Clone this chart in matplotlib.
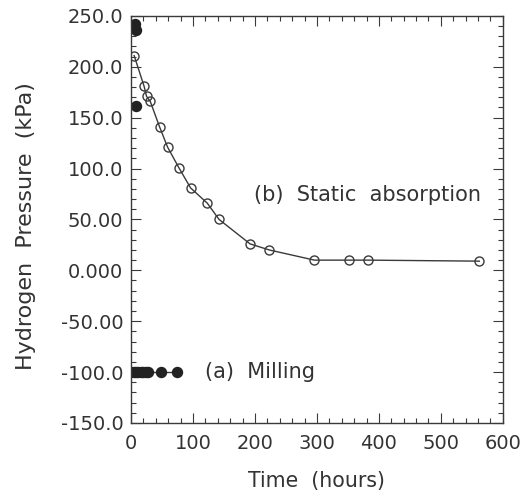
import numpy as np
import matplotlib.pyplot as plt
from matplotlib.ticker import MultipleLocator

plt.rcParams['font.family'] = ['DejaVu Sans']

# (b) absorcao estatica - circulos abertos
t_static = [5, 21, 25, 31, 46, 59, 77, 96, 123, 142, 192, 223, 296, 352, 382, 562]
p_static = [211, 181, 171, 166, 141, 121, 101, 81, 66, 50, 26, 20, 10, 10, 10, 9]

# (a) moagem - circulos cheios
t_mill = [0, 4, 8, 12, 16, 20, 24, 28, 48, 74]
p_mill = [-100, -100, -100, -100, -100, -100, -100, -100, -100, -100]

# pontos cheios perto do topo
t_top = [6, 8, 8]
p_top = [242, 236, 161]

ytick_vals = [250, 200, 150, 100, 50, 0, -50, -100, -150]
ytick_txt = ['250.0', '200.0', '150.0', '100.0', '50.00', '0.000', '-50.00', '-100.0', '-150.0']
xtick_vals = [0, 100, 200, 300, 400, 500, 600]

fig = plt.figure(figsize=(5.2, 4.97), dpi=100)
ax = fig.add_axes([0.252, 0.149, 0.715, 0.819])

cor = '#3a3a3a'
ax.plot(t_static, p_static, '-o', color=cor, lw=1.0, ms=6.5,
        mfc='none', mec=cor, mew=1.0)
ax.plot(t_mill, p_mill, '-o', color=cor, lw=1.0, ms=7.2, mfc='#222222', mec='#222222')
ax.plot(t_top, p_top, 'o', ms=7.2, mfc='#222222', mec='#222222')

ax.set_xlim(0, 600)
ax.set_ylim(-150, 250)
ax.set_xticks(xtick_vals)
ax.set_yticks(ytick_vals)
ax.set_yticklabels(ytick_txt)
ax.xaxis.set_minor_locator(MultipleLocator(20))
ax.yaxis.set_minor_locator(MultipleLocator(10))
ax.tick_params(which='both', direction='in', top=True, right=True, colors=cor,
               labelcolor='#333333', labelsize=14, width=0.8)
ax.tick_params(which='major', length=7)
ax.tick_params(which='minor', length=3.5)
ax.tick_params(axis='x', which='major', pad=8)
ax.tick_params(axis='y', which='major', pad=5.5)
for s in ax.spines.values():
    s.set_color(cor)
    s.set_linewidth(1.0)

ax.text(198, 74, '(b)  Static  absorption', fontsize=15, color='#333333', va='center')
ax.text(119, -100, '(a)  Milling', fontsize=15, color='#333333', va='center')

ax.set_xlabel('Time  (hours)', fontsize=14.8, color='#333333', labelpad=13)
ax.set_ylabel('Hydrogen  Pressure  (kPa)', fontsize=16, color='#333333')
ax.yaxis.set_label_coords(-0.255, 0.484)

fig.savefig('out.png', dpi=100)
